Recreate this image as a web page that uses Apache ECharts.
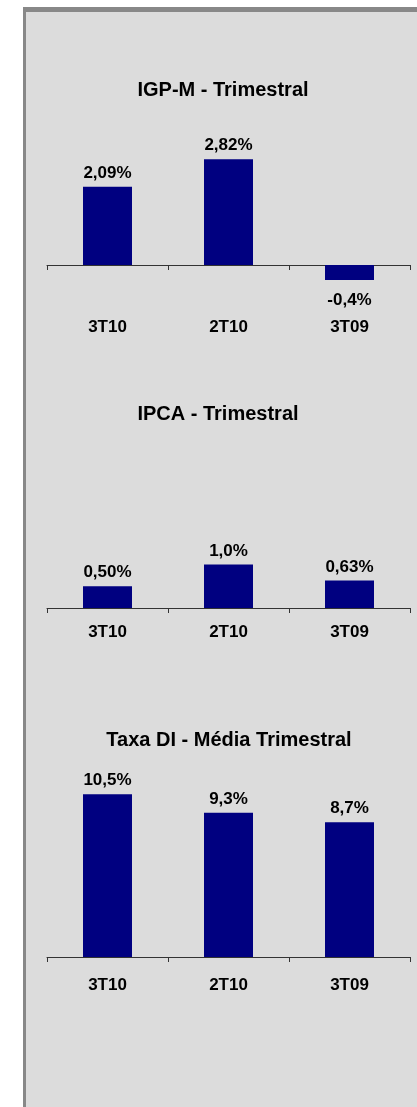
<!DOCTYPE html>
<html>
<head>
<meta charset="utf-8">
<script src="https://cdn.jsdelivr.net/npm/echarts@6/dist/echarts.min.js"></script>
<style>
  html, body { margin: 0; padding: 0; background: #fff; }
  .panel {
    position: absolute; left: 23px; top: 7px; width: 394px; height: 1100px;
    background: #dcdcdc; border-left: 3px solid #888; border-top: 5px solid #888;
    box-sizing: border-box;
  }
  #chart { position: absolute; left: 0; top: 0; width: 417px; height: 1107px; }
</style>
</head>
<body>
<div class="panel"></div>
<div id="chart"></div>
<script>
// dados dos três gráficos
var categories = ['3T10', '2T10', '3T09']
var igpmValues = [2.09, 2.82, -0.4]
var igpmLabels = ['2,09%', '2,82%', '-0,4%']
var ipcaValues = [0.50, 1.0, 0.63]
var ipcaLabels = ['0,50%', '1,0%', '0,63%']
var diValues = [10.5, 9.3, 8.7]
var diLabels = ['10,5%', '9,3%', '8,7%']
var titles = ['IGP-M - Trimestral', 'IPCA - Trimestral', 'Taxa DI - Média Trimestral']

var font = 'Arial, "Liberation Sans", sans-serif'
var chartObj = echarts.init(document.getElementById('chart'))

function titleItem(text, x, y) {
  return {
    text: text, left: x, top: y, textAlign: 'center',
    textStyle: { fontFamily: font, fontSize: 20, fontWeight: 'bold', color: '#000' }
  }
}

function xAxisItem(idx, margin) {
  return {
    type: 'category', gridIndex: idx, data: categories,
    axisLine: { onZero: true, lineStyle: { color: '#333', width: 1 } },
    axisTick: { show: true, length: 5, lineStyle: { color: '#333' } },
    axisLabel: { margin: margin, fontFamily: font, fontSize: 17, fontWeight: 'bold', color: '#000' }
  }
}

function yAxisItem(idx, min, max) {
  return {
    type: 'value', gridIndex: idx, min: min, max: max, show: false,
    splitLine: { show: false }
  }
}

function barSeries(idx, values, labels) {
  return {
    type: 'bar', xAxisIndex: idx, yAxisIndex: idx, barWidth: 49,
    itemStyle: { color: '#000080' },
    label: {
      show: true, position: 'top', distance: 5,
      fontFamily: font, fontSize: 17, fontWeight: 'bold', color: '#000',
      formatter: function (p) { return labels[p.dataIndex] }
    },
    data: values.map(function (v) {
      return v < 0 ? { value: v, label: { position: 'bottom', distance: 12 } } : v
    })
  }
}

var option = {
  animation: false,
  title: [
    titleItem(titles[0], 218, 75),
    titleItem(titles[1], 213, 399),
    titleItem(titles[2], 224, 725)
  ],
  grid: [
    { left: 47, right: 7, top: 152.5, height: 150 },
    { left: 47, right: 7, top: 521, height: 87 },
    { left: 47, right: 7, top: 771, height: 186 }
  ],
  xAxis: [xAxisItem(0, 16), xAxisItem(1, 16), xAxisItem(2, 20)],
  yAxis: [yAxisItem(0, -1, 3), yAxisItem(1, 0, 2), yAxisItem(2, 0, 12)],
  series: [
    barSeries(0, igpmValues, igpmLabels),
    barSeries(1, ipcaValues, ipcaLabels),
    barSeries(2, diValues, diLabels)
  ]
}
chartObj.setOption(option)
</script>
</body>
</html>
